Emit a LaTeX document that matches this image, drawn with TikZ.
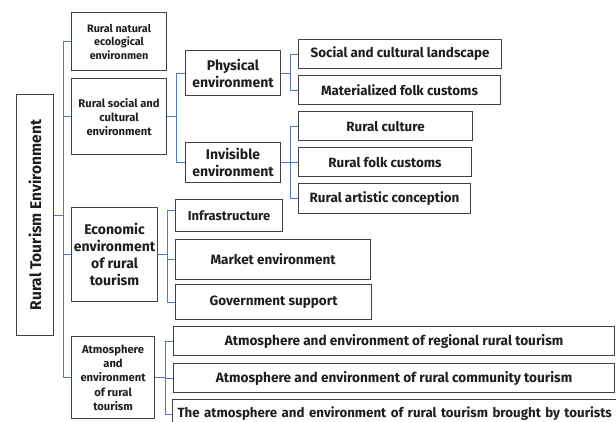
\documentclass[tikz,border=0pt]{standalone}
\usepackage{fontspec}
\usepackage{graphicx}
\setmainfont{Fira Sans}
\usetikzlibrary{positioning}
\definecolor{linkblue}{RGB}{82,120,196}
\definecolor{boxgray}{RGB}{64,64,64}
\definecolor{inkblack}{RGB}{30,30,30}

\begin{document}
\begin{tikzpicture}[x=1pt, y=-1pt,
        box/.style={draw=boxgray, line width=1.1pt, fill=white, text=inkblack, align=center, inner sep=1pt, anchor=north west},
        link/.style={draw=linkblue, line width=0.9pt}
    ]
        \useasboundingbox (0,0) rectangle (616,421);

        % Root
        \node[box, minimum width=37pt, minimum height=241pt, font=\fontsize{15.5}{18}\selectfont\bfseries] (root) at (16,94) {\rotatebox{90}{Rural Tourism Environment}};

        % First level
        \node[box, minimum width=95pt, minimum height=58pt, font=\fontsize{10.8}{13.5}\selectfont\bfseries] (natural) at (71,12) {Rural natural\\ecological\\environmen};
        \node[box, minimum width=95pt, minimum height=76pt, font=\fontsize{11.2}{14}\selectfont\bfseries] (social) at (71,78) {Rural social and\\cultural\\environment};
        \node[box, minimum width=86pt, minimum height=94pt, font=\fontsize{14}{17}\selectfont\bfseries] (economic) at (71,207) {Economic\\environment\\of rural\\tourism};
        \node[box, minimum width=83pt, minimum height=82pt, font=\fontsize{11.2}{14.3}\selectfont\bfseries] (atmos) at (71,336) {Atmosphere\\and\\environment\\of rural\\tourism};

        % Social and cultural branch
        \node[box, minimum width=95pt, minimum height=45pt, font=\fontsize{14}{17}\selectfont\bfseries] (physical) at (185,50) {Physical\\environment};
        \node[box, minimum width=95pt, minimum height=40pt, font=\fontsize{14}{17}\selectfont\bfseries] (invisible) at (185,142) {Invisible\\environment};

        \node[box, minimum width=203pt, minimum height=29pt, font=\fontsize{13.4}{15}\selectfont\bfseries] (landscape) at (298,39) {Social and cultural landscape};
        \node[box, minimum width=202pt, minimum height=29pt, font=\fontsize{13.4}{15}\selectfont\bfseries] (materialized) at (298,75) {Materialized folk customs};
        \node[box, minimum width=174pt, minimum height=29pt, font=\fontsize{13.4}{15}\selectfont\bfseries] (culture) at (298,111) {Rural culture};
        \node[box, minimum width=173pt, minimum height=29pt, font=\fontsize{13.4}{15}\selectfont\bfseries] (folk) at (298,147) {Rural folk customs};
        \node[box, minimum width=172pt, minimum height=30pt, font=\fontsize{13.4}{15}\selectfont\bfseries] (artistic) at (298,183) {Rural artistic conception};

        % Economic branch
        \node[box, minimum width=107pt, minimum height=32pt, font=\fontsize{13}{15}\selectfont\bfseries] (infra) at (175,199) {Infrastructure};
        \node[box, minimum width=195pt, minimum height=40pt, font=\fontsize{13.5}{15}\selectfont\bfseries] (market) at (175,239) {Market environment};
        \node[box, minimum width=196pt, minimum height=35pt, font=\fontsize{13.5}{15}\selectfont\bfseries] (government) at (175,284) {Government support};

        % Atmosphere branch
        \node[box, minimum width=441pt, minimum height=29pt, font=\fontsize{13.6}{15}\selectfont\bfseries] (regional) at (173,326) {Atmosphere and environment of regional rural tourism};
        \node[box, minimum width=441pt, minimum height=29pt, font=\fontsize{13.6}{15}\selectfont\bfseries] (community) at (173,363) {Atmosphere and environment of rural community tourism};
        \node[box, minimum height=29pt, text width=458pt, align=left, inner xsep=5pt, font=\fontsize{13.3}{15}\selectfont\bfseries] (tourists) at (172,399) {The atmosphere and environment of rural tourism brought by tourists};

        % Connectors
        \draw[link] (root.east) -- ++(9,0) |- (natural.west);
        \draw[link] (root.east) -- ++(9,0) |- (social.west);
        \draw[link] (root.east) -- ++(9,0) |- (economic.west);
        \draw[link] (root.east) -- ++(9,0) |- (atmos.west);

        \draw[link] (social.east) -- ++(9,0) |- (physical.west);
        \draw[link] (social.east) -- ++(9,0) |- (invisible.west);

        \draw[link] (physical.east) -- ++(9,0) |- (landscape.west);
        \draw[link] (physical.east) -- ++(9,0) |- (materialized.west);

        \draw[link] (invisible.east) -- ++(9,0) |- (culture.west);
        \draw[link] (invisible.east) -- ++(9,0) |- (folk.west);
        \draw[link] (invisible.east) -- ++(9,0) |- (artistic.west);

        \draw[link] (economic.east) -- ++(9,0) |- ([yshift=5pt]infra.west);
        \draw[link] (economic.east) -- ++(9,0) |- (market.west);
        \draw[link] (economic.east) -- ++(9,0) |- (government.west);

        \draw[link] (atmos.east) -- ++(10,0) |- (regional.west);
        \draw[link] (atmos.east) -- ++(10,0) |- (community.west);
        \draw[link] (atmos.east) -- ++(10,0) |- (tourists.west);
    \end{tikzpicture}
\end{document}
